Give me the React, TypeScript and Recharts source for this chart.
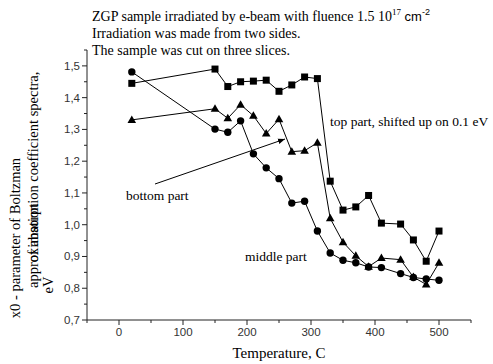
import { LineChart, Line, XAxis, YAxis } from "recharts";

const TEMPS = [20, 150, 170, 190, 210, 230, 250, 270, 290, 310, 330, 350, 370, 390, 410, 440, 460, 480, 500];
const TOP_PART = [1.445, 1.49, 1.435, 1.45, 1.452, 1.455, 1.42, 1.44, 1.465, 1.46, 1.137, 1.046, 1.056, 1.092, 1.005, 1.002, 0.952, 0.885, 0.98];
const BOTTOM_PART = [1.33, 1.365, 1.335, 1.378, 1.343, 1.287, 1.332, 1.23, 1.233, 1.258, 1.02, 0.945, 0.902, 0.868, 0.895, 0.89, 0.835, 0.812, 0.88];
const MIDDLE_PART = [1.481, 1.301, 1.291, 1.327, 1.223, 1.179, 1.145, 1.068, 1.074, 0.98, 0.911, 0.888, 0.88, 0.867, 0.865, 0.846, 0.834, 0.829, 0.825];

const X_TICKS = [-50, 0, 50, 100, 150, 200, 250, 300, 350, 400, 450, 500, 550];
const Y_TICKS = [0.7, 0.75, 0.8, 0.85, 0.9, 0.95, 1.0, 1.05, 1.1, 1.15, 1.2, 1.25, 1.3, 1.35, 1.4, 1.45, 1.5, 1.55];

const dados = TEMPS.map((t, i) => ({
  t,
  top: TOP_PART[i],
  bottom: BOTTOM_PART[i],
  middle: MIDDLE_PART[i],
}));

const SERIF = "'Liberation Serif', 'Times New Roman', serif";
const SANS = "'Liberation Sans', Arial, sans-serif";
const COR_EIXO = "#222";

function XTick({ x, y, payload }: any) {
  const v = payload.value;
  const major = v % 100 === 0;
  return (
    <g>
      <line x1={x} x2={x} y1={y} y2={y + (major ? 5 : 3)} stroke={COR_EIXO} />
      {major && (
        <text x={x} y={y + 16} textAnchor="middle" fontSize={11.5} fontFamily={SANS} fill="#333">
          {v}
        </text>
      )}
    </g>
  );
}

function YTick({ x, y, payload }: any) {
  const v = payload.value;
  const major = Math.round(v * 100) % 10 === 0;
  return (
    <g>
      <line x1={x} x2={x - (major ? 5 : 3)} y1={y} y2={y} stroke={COR_EIXO} />
      {major && (
        <text x={x - 7} y={y + 4} textAnchor="end" fontSize={11.5} fontFamily={SANS} fill="#333">
          {v.toFixed(1).replace(".", ",")}
        </text>
      )}
    </g>
  );
}

const quadrado = (p: any) => (
  <rect key={`q-${p.index}`} x={p.cx - 3.5} y={p.cy - 3.5} width={7} height={7} fill="#000" />
);
const circulo = (p: any) => <circle key={`c-${p.index}`} cx={p.cx} cy={p.cy} r={3.7} fill="#000" />;
const triangulo = (p: any) => (
  <polygon
    key={`t-${p.index}`}
    points={`${p.cx},${p.cy - 4.5} ${p.cx + 4.3},${p.cy + 3} ${p.cx - 4.3},${p.cy + 3}`}
    fill="#000"
  />
);

export default function App() {
  return (
    <div style={{ position: "absolute", left: 0, top: 0, width: 493, height: 364, background: "#fff" }}>
      <LineChart width={493} height={364} data={dados} margin={{ top: 50, right: 22, bottom: 0, left: 0 }}>
        <XAxis
          type="number"
          dataKey="t"
          domain={[-50, 550]}
          ticks={X_TICKS}
          interval={0}
          tick={<XTick />}
          tickLine={false}
          tickSize={0}
          tickMargin={0}
          axisLine={{ stroke: COR_EIXO }}
          height={44}
        />
        <YAxis
          type="number"
          domain={[0.7, 1.55]}
          ticks={Y_TICKS}
          interval={0}
          tick={<YTick />}
          tickLine={false}
          tickSize={0}
          tickMargin={0}
          axisLine={{ stroke: COR_EIXO }}
          width={87}
        />
        <Line dataKey="top" stroke="#000" strokeWidth={1} dot={quadrado} isAnimationActive={false} />
        <Line dataKey="bottom" stroke="#000" strokeWidth={1} dot={triangulo} isAnimationActive={false} />
        <Line dataKey="middle" stroke="#000" strokeWidth={1} dot={circulo} isAnimationActive={false} />
      </LineChart>
      <svg width={493} height={364} style={{ position: "absolute", left: 0, top: 0, pointerEvents: "none" }}>
        <defs>
          <marker id="seta" viewBox="0 0 10 10" refX="10" refY="5" markerWidth="7" markerHeight="7" orient="auto">
            <path d="M0,1 L10,5 L0,9 z" fill="#000" />
          </marker>
        </defs>
        <g fontFamily={SERIF} fontSize={14} fill="#000">
          <text x={92} y={21}>
            ZGP sample irradiated by e-beam with fluence 1.5 10
            <tspan fontSize={9} dy={-6}>17</tspan>
            <tspan fontFamily={SANS} fontSize={13} dy={6}> cm</tspan>
            <tspan fontFamily={SANS} fontSize={9} dy={-6}>-2</tspan>
          </text>
          <text x={92} y={38}>Irradiation was made from two sides.</text>
          <text x={92} y={55}>The sample was cut on three slices.</text>
        </g>
        <g fontFamily={SERIF} fontSize={13.5} fill="#000">
          <text x={330} y={126}>top part, shifted up on 0.1 eV</text>
          <text x={126} y={200}>bottom part</text>
          <text x={245} y={261}>middle part</text>
        </g>
        <line x1={155} y1={184} x2={285} y2={139} stroke="#000" strokeWidth={1} markerEnd="url(#seta)" />
        <text x={279} y={358} textAnchor="middle" fontFamily={SERIF} fontSize={15}>
          Temperature, C
        </text>
        <g fontFamily={SERIF} fontSize={14.5}>
          <text transform="translate(20, 238) rotate(-90)" textAnchor="middle">
            x0 - parameter of Boltzman
          </text>
          <text transform="translate(38, 288) rotate(-90)">approximation</text>
          <text transform="translate(38, 288) rotate(-90)">
            <tspan fill="none">appr</tspan>of absorption coefficient spectra,
          </text>
          <text transform="translate(53, 285) rotate(-90)" textAnchor="middle">
            eV
          </text>
        </g>
      </svg>
    </div>
  );
}
